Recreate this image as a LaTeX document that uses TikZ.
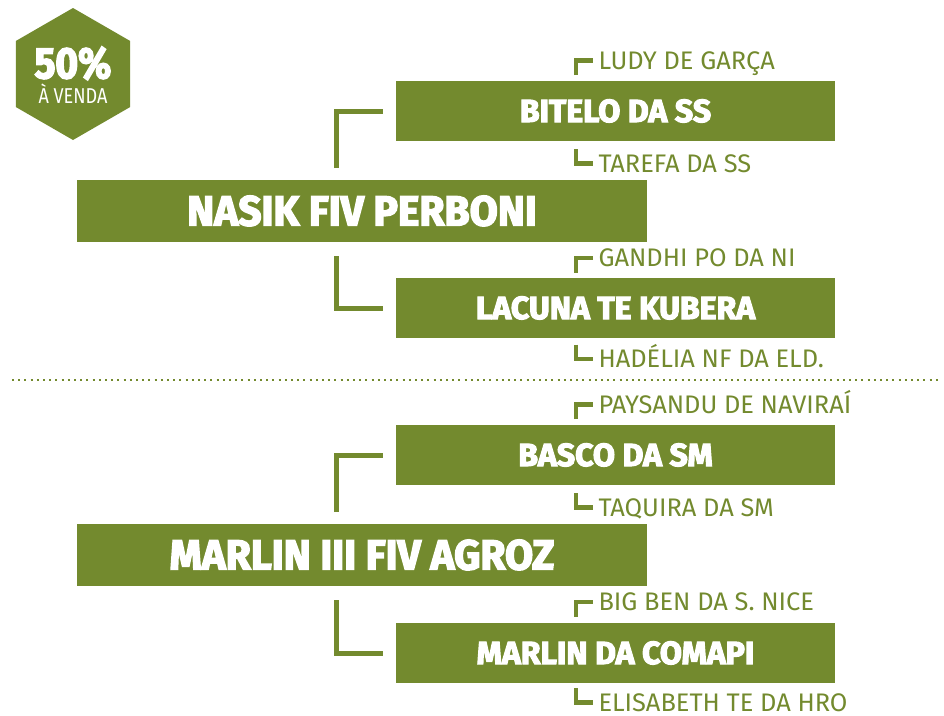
\documentclass[tikz,border=0pt]{standalone}
\usepackage{fontspec}
\setmainfont{Fira Sans}
\newfontfamily\lblfont{Fira Sans}
\newfontfamily\heavyfont[FakeBold=3.5]{Fira Sans}
\newfontfamily\bigheavyfont[FakeBold=3.5,FakeStretch=0.97]{Fira Sans}
\newfontfamily\pctfont[FakeBold=3.5,FakeStretch=0.88]{Fira Sans}
\newfontfamily\vendafont[FakeStretch=0.84]{Fira Sans}
\definecolor{agro}{RGB}{115,138,46}
\begin{document}
\begin{tikzpicture}[x=1pt,y=-1pt,
  smallbox/.style={fill=agro, text=white, inner sep=0pt, minimum width=439pt, minimum height=60pt,
    font=\heavyfont\bfseries\fontsize{32pt}{32pt}\selectfont, text height=22pt, text depth=0pt},
  bigbox/.style={fill=agro, text=white, inner sep=0pt, minimum width=570pt, minimum height=62pt,
    font=\bigheavyfont\bfseries\fontsize{42pt}{42pt}\selectfont, text height=29pt, text depth=0pt},
  lbl/.style={anchor=west, inner sep=0pt, text=agro, text height=17.5pt, text depth=0pt,
    font=\lblfont\fontsize{25.4pt}{25.4pt}\selectfont},
  bb/.style={draw=agro, line width=5pt, miter limit=10},
  sb/.style={draw=agro, line width=4.5pt},
]
\useasboundingbox (0,0) rectangle (944,715);

% badge
\fill[agro] (73,8) -- (130.2,41) -- (130.2,107) -- (73,140) -- (15.8,107) -- (15.8,41) -- cycle;
\node[anchor=base, inner sep=0pt, text=white, font=\pctfont\bfseries\fontsize{44pt}{44pt}\selectfont] (pct) at (73,78.3) {50\%};
\node[anchor=base, inner sep=0pt, text=white, font=\vendafont\fontsize{21.5pt}{21.5pt}\selectfont] (venda) at (73,103.3) {À VENDA};

% upper tree
\node[smallbox] (bitelo) at (615.5,111) {BITELO DA SS};
\node[bigbox] (nasik) at (362,211) {NASIK FIV PERBONI};
\node[smallbox] (lacuna) at (615.5,308) {LACUNA TE KUBERA};

\node[lbl] (ludy) at (598.3,60.5) {LUDY DE GARÇA};
\node[lbl] (tarefa) at (598.3,163.5) {TAREFA DA SS};
\node[lbl] (gandhi) at (598.3,258) {GANDHI PO DA NI};
\node[lbl] (hadelia) at (598.3,359) {HADÉLIA NF DA ELD.};

\coordinate (n1) at (336.5,168);
\coordinate (n2) at (336.5,256);
\draw[bb] (n1) |- ([xshift=-13pt]bitelo.west);
\draw[bb] (n2) |- ([xshift=-13pt]lacuna.west);

\draw[sb] ([xshift=-22.5pt,yshift=-14.5pt]ludy.west) |- ([xshift=-5.6pt]ludy.west);
\draw[sb] ([xshift=-22.5pt,yshift=14.5pt]tarefa.west) |- ([xshift=-5.6pt]tarefa.west);
\draw[sb] ([xshift=-22.5pt,yshift=-14.5pt]gandhi.west) |- ([xshift=-5.6pt]gandhi.west);
\draw[sb] ([xshift=-22.5pt,yshift=14.5pt]hadelia.west) |- ([xshift=-5.6pt]hadelia.west);

% separator
\coordinate (sepL) at (12,380);
\coordinate (sepR) at (940,380);
\draw[agro, line width=2pt, dash pattern=on 2pt off 4.2pt] (sepL) -- (sepR);

% lower tree
\node[smallbox] (basco) at (615.5,455) {BASCO DA SM};
\node[bigbox] (marlin) at (362,555) {MARLIN III FIV AGROZ};
\node[smallbox] (comapi) at (615.5,653) {MARLIN DA COMAPI};

\node[lbl] (paysandu) at (598.3,404.5) {PAYSANDU DE NAVIRAÍ};
\node[lbl] (taquira) at (598.3,507.5) {TAQUIRA DA SM};
\node[lbl] (bigben) at (598.3,602) {BIG BEN DA S. NICE};
\node[lbl] (elisabeth) at (598.3,702.5) {ELISABETH TE DA HRO};

\coordinate (m1) at (336.5,512);
\coordinate (m2) at (336.5,600);
\draw[bb] (m1) |- ([xshift=-13pt]basco.west);
\draw[bb] (m2) |- ([xshift=-13pt]comapi.west);

\draw[sb] ([xshift=-22.5pt,yshift=-14.5pt]paysandu.west) |- ([xshift=-5.6pt]paysandu.west);
\draw[sb] ([xshift=-22.5pt,yshift=14.5pt]taquira.west) |- ([xshift=-5.6pt]taquira.west);
\draw[sb] ([xshift=-22.5pt,yshift=-14.5pt]bigben.west) |- ([xshift=-5.6pt]bigben.west);
\draw[sb] ([xshift=-22.5pt,yshift=14.5pt]elisabeth.west) |- ([xshift=-5.6pt]elisabeth.west);
\end{tikzpicture}
\end{document}
